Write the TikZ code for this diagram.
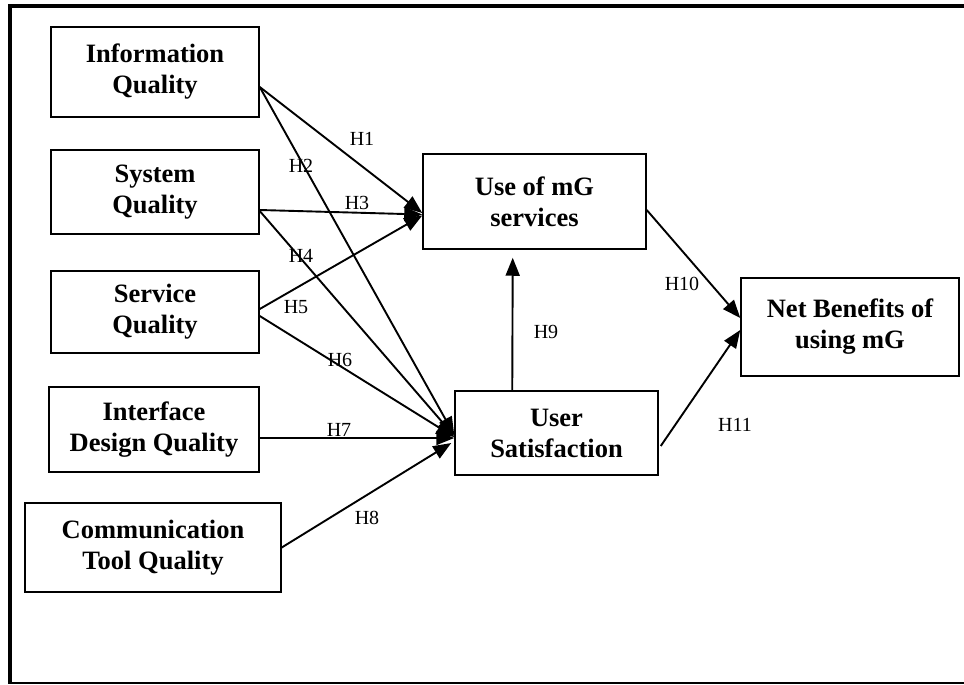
\documentclass[tikz,border=0pt]{standalone}
\usepackage{fontspec}
\setmainfont{Liberation Serif}
\usetikzlibrary{arrows.meta,calc}
\begin{document}
\begin{tikzpicture}[x=1pt,y=-1pt,
  box/.style={draw,line width=1.5pt,inner sep=0pt,align=center,
    font=\fontsize{26.5}{31}\selectfont\bfseries},
  hyp/.style={font=\fontsize{20}{22}\selectfont,inner sep=0pt},
  arr/.style={line width=1.9pt,-{Triangle[length=18pt,width=14pt]}}]
\useasboundingbox (0,0) rectangle (964,685);
% outer frame
\draw[line width=4pt] (964,6) -- (9.5,6) -- (9.5,683);
\draw[line width=2pt] (8,683) -- (964,683);
% boxes
\node[box,minimum width=208pt,minimum height=90pt] (info) at (155,72) {Information\\Quality};
\node[box,minimum width=208pt,minimum height=84pt] (sys) at (155,192) {System\\Quality};
\node[box,minimum width=208pt,minimum height=82pt] (serv) at (155,312) {Service\\Quality};
\node[box,minimum width=210pt,minimum height=85pt] (iface) at (154,429.5) {Interface\\Design Quality};
\node[box,minimum width=256pt,minimum height=89pt] (comm) at (153,547.5) {Communication\\Tool Quality};
\node[box,minimum width=223pt,minimum height=95pt] (use) at (534.5,201.5) {Use of mG\\services};
\node[box,minimum width=203pt,minimum height=84pt] (usat) at (556.5,433) {User\\Satisfaction};
\node[box,minimum width=218pt,minimum height=98pt] (net) at (850,327) {Net Benefits of\\using mG};
% connectors
\draw[arr] ($(info.east)+(0,15)$) -- ($(use.west)+(0,11.5)$);
\draw[arr] ($(sys.east)+(0,18)$) -- ($(use.west)+(0,13)$);
\draw[arr] ($(serv.east)+(0,-3)$) -- ($(use.west)+(0,14)$);
\draw[arr] ($(info.east)+(0,15)$) -- ($(usat.west)+(0,2)$);
\draw[arr] ($(sys.east)+(0,19)$) -- ($(usat.west)+(0,3)$);
\draw[arr] ($(serv.east)+(0,4)$) -- ($(usat.west)+(0,4)$);
\draw[arr] ($(iface.east)+(0,8.5)$) -- ($(usat.west)+(0,5)$);
\draw[arr] (comm.east) -- ($(usat.west)+(-3,10)$);
\draw[arr,shorten >=8pt] ($(usat.north west)+(58,0)$) -- ($(use.south west)+(90.5,0)$);
\draw[arr] ($(use.east)+(0,8.5)$) -- ($(net.west)+(0,-9)$);
\draw[arr] ($(usat.east)+(2,13)$) -- ($(net.west)+(0,3)$);
% labels
\node[hyp] (h1) at (362,139) {H1};
\node[hyp] (h2) at (301,166) {H2};
\node[hyp] (h3) at (357,203) {H3};
\node[hyp] (h4) at (301,256) {H4};
\node[hyp] (h5) at (296,307) {H5};
\node[hyp] (h6) at (340,360) {H6};
\node[hyp] (h7) at (339,430) {H7};
\node[hyp] (h8) at (367,518) {H8};
\node[hyp] (h9) at (546,332) {H9};
\node[hyp] (h10) at (682,284) {H10};
\node[hyp] (h11) at (735,425) {H11};
\end{tikzpicture}
\end{document}
